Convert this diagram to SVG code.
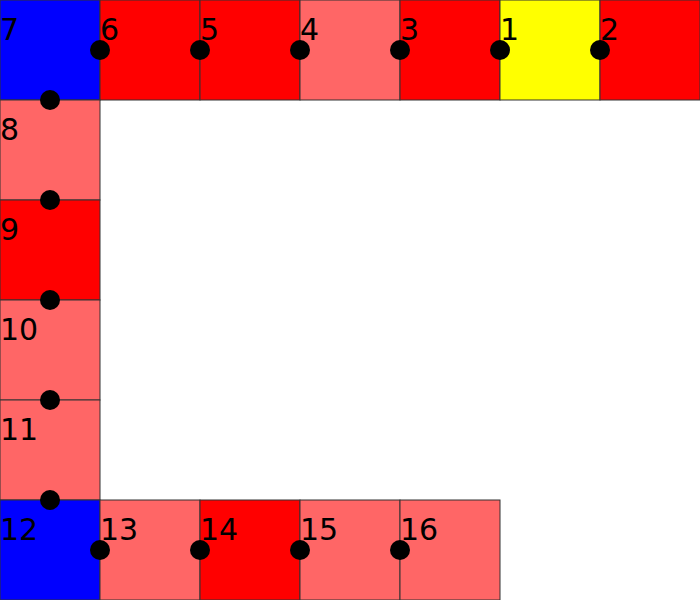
<svg xmlns="http://www.w3.org/2000/svg" width="700" height="600" viewBox="0 0 700 600">
<style>
.c{stroke:#333;stroke-width:1}
.r{fill:#ff0000}.l{fill:#ff6666}.b{fill:#0000ff}.y{fill:#ffff00}
text{font-family:"DejaVu Sans",sans-serif;font-size:30px;fill:#000}
circle{fill:#000}
</style>
<rect width="700" height="600" fill="#fff"/>
<g id="cell7"><rect class="c b" x="0" y="0" width="100" height="100"/></g>
<g id="cell6"><rect class="c r" x="100" y="0" width="100" height="100"/></g>
<g id="cell5"><rect class="c r" x="200" y="0" width="100" height="100"/></g>
<g id="cell4"><rect class="c l" x="300" y="0" width="100" height="100"/></g>
<g id="cell3"><rect class="c r" x="400" y="0" width="100" height="100"/></g>
<g id="cell1"><rect class="c y" x="500" y="0" width="100" height="100"/></g>
<g id="cell2"><rect class="c r" x="600" y="0" width="100" height="100"/></g>
<g id="cell8"><rect class="c l" x="0" y="100" width="100" height="100"/></g>
<g id="cell9"><rect class="c r" x="0" y="200" width="100" height="100"/></g>
<g id="cell10"><rect class="c l" x="0" y="300" width="100" height="100"/></g>
<g id="cell11"><rect class="c l" x="0" y="400" width="100" height="100"/></g>
<g id="cell12"><rect class="c b" x="0" y="500" width="100" height="100"/></g>
<g id="cell13"><rect class="c l" x="100" y="500" width="100" height="100"/></g>
<g id="cell14"><rect class="c r" x="200" y="500" width="100" height="100"/></g>
<g id="cell15"><rect class="c l" x="300" y="500" width="100" height="100"/></g>
<g id="cell16"><rect class="c l" x="400" y="500" width="100" height="100"/></g>
<g id="connectors">
<circle cx="100" cy="50" r="10"/><circle cx="200" cy="50" r="10"/><circle cx="300" cy="50" r="10"/>
<circle cx="400" cy="50" r="10"/><circle cx="500" cy="50" r="10"/><circle cx="600" cy="50" r="10"/>
<circle cx="50" cy="100" r="10"/><circle cx="50" cy="200" r="10"/><circle cx="50" cy="300" r="10"/>
<circle cx="50" cy="400" r="10"/><circle cx="50" cy="500" r="10"/>
<circle cx="100" cy="550" r="10"/><circle cx="200" cy="550" r="10"/><circle cx="300" cy="550" r="10"/><circle cx="400" cy="550" r="10"/>
</g>
<g id="labels">
<text x="0" y="40">7</text><text x="100" y="40">6</text><text x="200" y="40">5</text><text x="300" y="40">4</text>
<text x="400" y="40">3</text><text x="500" y="40">1</text><text x="600" y="40">2</text>
<text x="0" y="140">8</text><text x="0" y="240">9</text><text x="0" y="340">10</text><text x="0" y="440">11</text>
<text x="0" y="540">12</text><text x="100" y="540">13</text><text x="200" y="540">14</text><text x="300" y="540">15</text><text x="400" y="540">16</text>
</g>
</svg>
